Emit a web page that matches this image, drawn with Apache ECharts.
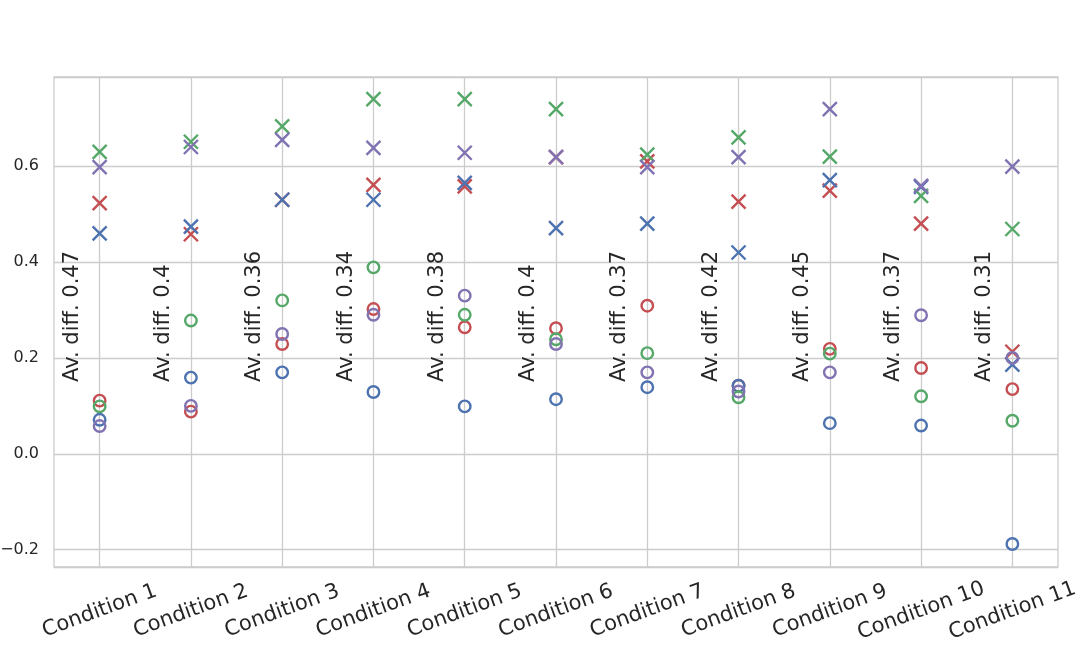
<!DOCTYPE html>
<html>
<head>
<meta charset="utf-8">
<script src="https://cdn.jsdelivr.net/npm/echarts@6/dist/echarts.min.js"></script>
<style>
html,body{margin:0;padding:0;background:#fff;}
#chart{width:1080px;height:648px;}
</style>
</head>
<body>
<div id="chart"></div>
<script>
var categories = ['Condition 1','Condition 2','Condition 3','Condition 4','Condition 5','Condition 6','Condition 7','Condition 8','Condition 9','Condition 10','Condition 11'];
var avDiff = ['0.47','0.4','0.36','0.34','0.38','0.4','0.37','0.42','0.45','0.37','0.31'];

// "x" markers
var redX    = [0.523, 0.458, 0.530, 0.561, 0.558, 0.619, 0.610, 0.526, 0.549, 0.480, 0.213];
var blueX   = [0.460, 0.474, 0.530, 0.530, 0.565, 0.471, 0.480, 0.420, 0.571, 0.557, 0.186];
var greenX  = [0.630, 0.651, 0.683, 0.740, 0.740, 0.719, 0.624, 0.660, 0.620, 0.538, 0.469];
var purpleX = [0.598, 0.640, 0.655, 0.638, 0.628, 0.619, 0.598, 0.619, 0.719, 0.559, 0.599];

// "o" markers
var redO    = [0.111, 0.088, 0.229, 0.302, 0.264, 0.262, 0.309, 0.142, 0.219, 0.179, 0.135];
var blueO   = [0.071, 0.159, 0.170, 0.129, 0.099, 0.114, 0.139, 0.142, 0.064, 0.059, -0.188];
var greenO  = [0.099, 0.278, 0.320, 0.389, 0.290, 0.239, 0.210, 0.118, 0.209, 0.120, 0.069];
var purpleO = [0.058, 0.100, 0.250, 0.290, 0.330, 0.229, 0.170, 0.130, 0.170, 0.289, 0.200];

var C = {blue:'#4C72B0', green:'#55A868', red:'#C44E52', purple:'#8172B2'};
var FONT = 'DejaVu Sans';
var GRID = '#cccccc';
var TXT = '#262626';

function crossSeries(data, color){
  return {type:'scatter', data:data, z:3, silent:true,
    symbol:'path://M0,0L10,10M10,0L0,10', symbolSize:14,
    itemStyle:{color:'rgba(0,0,0,0)', borderColor:color, borderWidth:2.4, opacity:1}};
}
function circleSeries(data, color){
  return {type:'scatter', data:data, z:3, silent:true,
    symbol:'circle', symbolSize:11.5,
    itemStyle:{color:'rgba(0,0,0,0)', borderColor:color, borderWidth:2.4, opacity:1}};
}

var labelData = categories.map(function(c,i){ return [i, 0.15]; });

var chart = echarts.init(document.getElementById('chart'), null, {renderer:'canvas'});
chart.setOption({
  animation:false,
  backgroundColor:'#ffffff',
  grid:{left:54, right:22, top:77, bottom:81, containLabel:false, outerBoundsMode:'none',
    show:true, borderColor:GRID, borderWidth:1.3, backgroundColor:'rgba(0,0,0,0)'},
  xAxis:{type:'category', data:categories, boundaryGap:true,
    axisLine:{show:false}, axisTick:{show:false}, splitLine:{show:false},
    axisLabel:{rotate:20, align:'center', verticalAlign:'middle', margin:44, interval:0,
      fontFamily:FONT, fontSize:21, color:TXT}},
  yAxis:{type:'value', min:-0.236, max:0.786, splitNumber:5,
    axisLine:{show:false}, axisTick:{show:false},
    splitLine:{show:true, lineStyle:{color:GRID, width:1.3}},
    axisLabel:{margin:15, fontFamily:FONT, fontSize:16, color:TXT,
      formatter:function(v){
        var r = Math.round(v*10)/10;
        if (Math.abs(v - r) > 1e-6 || Math.round(r*10) % 2 !== 0) return '';
        return (r < 0 ? '\u2212' : '') + Math.abs(r).toFixed(1);
      }}},
  series:[
    {type:'custom', z:1, silent:true, data:labelData,
      markLine:{silent:true, symbol:['none','none'], label:{show:false}, z:1,
        lineStyle:{color:GRID, width:1.3, type:'solid'},
        data:categories.map(function(c){ return {xAxis:c}; })},
      renderItem:function(params, api){
        var p = api.coord([api.value(0), api.value(1)]);
        var bw = api.size([1,0])[0];
        return {type:'text', x:p[0] - 0.3*bw, y:p[1], rotation:Math.PI/2,
          style:{text:'Av. diff. ' + avDiff[params.dataIndex], fill:TXT,
            font:'21px "DejaVu Sans"', align:'left', verticalAlign:'middle'}};
      }},
    crossSeries(redX, C.red), circleSeries(redO, C.red),
    crossSeries(blueX, C.blue), circleSeries(blueO, C.blue),
    crossSeries(greenX, C.green), circleSeries(greenO, C.green),
    crossSeries(purpleX, C.purple), circleSeries(purpleO, C.purple)
  ]
});
</script>
</body>
</html>
